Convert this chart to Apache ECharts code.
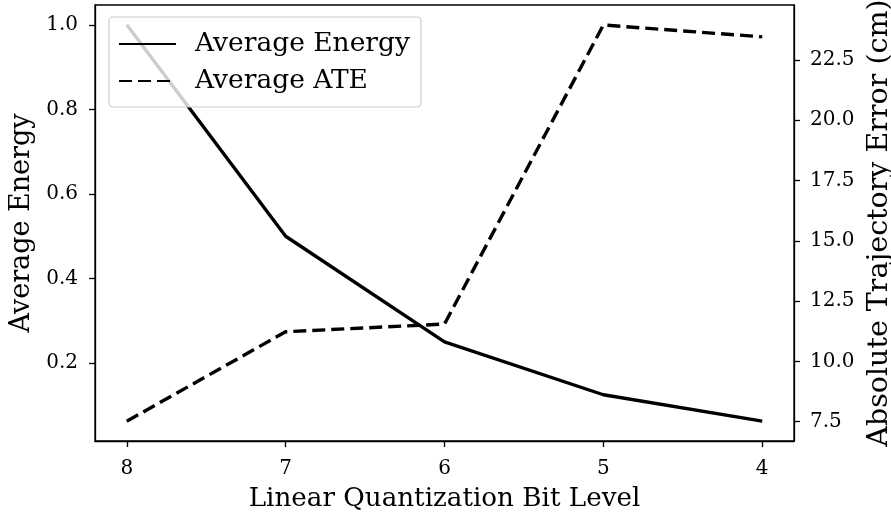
<!DOCTYPE html>
<html>
<head>
<meta charset="utf-8">
<script src="https://cdn.jsdelivr.net/npm/echarts@6/dist/echarts.min.js"></script>
<style>
  html, body { margin: 0; padding: 0; background: #fff; }
  #chart { width: 891px; height: 514px; }
</style>
</head>
<body>
<div id="chart"></div>
<script>
// Bit levels on the x axis (plotted high to low)
const bitLevels = [8, 7, 6, 5, 4];
// Normalised average energy per bit level
const avgEnergy = [1.0, 0.5, 0.25, 0.125, 0.0625];
// Average absolute trajectory error (cm) per bit level
const avgATE = [7.52, 11.23, 11.55, 23.95, 23.46];
// Tick positions
const energyTicks = [0.2, 0.4, 0.6, 0.8, 1.0];
const ateTicks = [7.5, 10.0, 12.5, 15.0, 17.5, 20.0, 22.5];

const FONT = '"DejaVu Serif", serif';
const chart = echarts.init(document.getElementById('chart'), null, { renderer: 'canvas' });

const axisLine = { show: true, lineStyle: { color: '#000', width: 1.3 } };
const tick = { show: true, length: 6, lineStyle: { color: '#000', width: 1.3 } };
const tickLabel = { color: '#000', fontFamily: FONT, fontSize: 20 };
const nameStyle = size => ({ color: '#000', fontFamily: FONT, fontSize: size });

chart.setOption({
  animation: false,
  backgroundColor: '#fff',
  grid: {
    left: 95, right: 97, top: 5, bottom: 73,
    outerBoundsMode: 'none', containLabel: false,
    show: true, borderColor: '#000', borderWidth: 1.3, backgroundColor: 'transparent'
  },
  legend: {
    orient: 'vertical',
    left: 109, top: 17,
    itemWidth: 57, itemHeight: 14, itemGap: 7,
    padding: [12, 11, 11, 9],
    backgroundColor: 'rgba(255,255,255,0.8)',
    borderColor: '#cccccc', borderWidth: 1.2, borderRadius: 4,
    itemStyle: { opacity: 0 },
    textStyle: { color: '#000', fontFamily: FONT, fontSize: 26.5, lineHeight: 30, padding: [0, 0, 0, 14] },
    data: ['Average Energy', 'Average ATE']
  },
  xAxis: {
    type: 'value', inverse: true, min: 3.8, max: 8.2,
    name: 'Linear Quantization Bit Level', nameLocation: 'middle', nameGap: 45,
    nameTextStyle: nameStyle(26.2),
    axisLine: axisLine,
    axisTick: Object.assign({ customValues: bitLevels }, tick),
    axisLabel: Object.assign({ customValues: bitLevels, margin: 18, formatter: v => String(v) }, tickLabel),
    splitLine: { show: false }
  },
  yAxis: [
    {
      type: 'value', position: 'left', min: 0.015625, max: 1.046875,
      name: 'Average Energy', nameLocation: 'middle', nameGap: 55,
      nameTextStyle: nameStyle(27),
      axisLine: axisLine,
      axisTick: Object.assign({ customValues: energyTicks }, tick),
      axisLabel: Object.assign({ customValues: energyTicks, margin: 17, formatter: v => v.toFixed(1) }, tickLabel),
      splitLine: { show: false }
    },
    {
      type: 'value', position: 'right', min: 6.70, max: 24.78,
      name: 'Absolute Trajectory Error (cm)', nameLocation: 'middle', nameGap: 67,
      nameTextStyle: nameStyle(28.5),
      axisLine: axisLine,
      axisTick: Object.assign({ customValues: ateTicks }, tick),
      axisLabel: Object.assign({ customValues: ateTicks, margin: 16, formatter: v => v.toFixed(1) }, tickLabel),
      splitLine: { show: false }
    }
  ],
  series: [
    {
      name: 'Average Energy', type: 'line', yAxisIndex: 0,
      data: bitLevels.map((b, i) => [b, avgEnergy[i]]),
      symbol: 'none',
      lineStyle: { color: '#000', width: 3.4, type: 'solid', cap: 'butt', join: 'round' },
      itemStyle: { color: '#000' }
    },
    {
      name: 'Average ATE', type: 'line', yAxisIndex: 1,
      data: bitLevels.map((b, i) => [b, avgATE[i]]),
      symbol: 'none',
      lineStyle: { color: '#000', width: 3.4, type: [13, 6], cap: 'butt', join: 'round' },
      itemStyle: { color: '#000' }
    }
  ]
});
</script>
</body>
</html>
